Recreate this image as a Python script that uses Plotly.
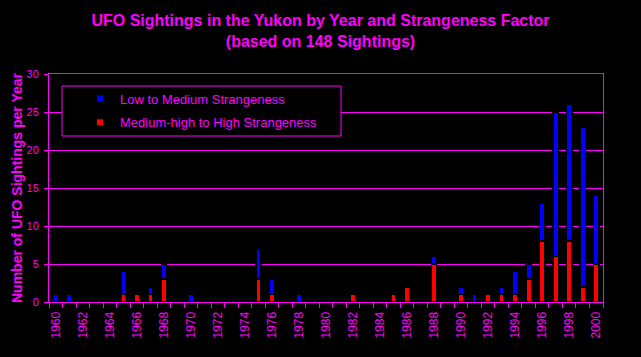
import plotly.graph_objects as go

years = list(range(1960, 2001))
# Medium-high to High Strangeness (red, bottom of stack)
high = {1965: 1, 1966: 1, 1967: 1, 1968: 3, 1975: 3, 1976: 1, 1982: 1, 1985: 1, 1986: 2,
        1988: 5, 1990: 1, 1992: 1, 1993: 1, 1994: 1, 1995: 3, 1996: 8, 1997: 6, 1998: 8,
        1999: 2, 2000: 5}
# Low to Medium Strangeness (blue, top of stack)
low = {1960: 1, 1961: 1, 1965: 3, 1967: 1, 1968: 2, 1970: 1, 1975: 4, 1976: 2, 1978: 1,
       1988: 1, 1990: 1, 1991: 1, 1993: 1, 1994: 3, 1995: 2, 1996: 5, 1997: 19, 1998: 18,
       1999: 21, 2000: 9}
high_vals = [high.get(y, 0) for y in years]
low_vals = [low.get(y, 0) for y in years]
tick_years = list(range(1960, 2001, 2))
tick_text = [str(y) for y in tick_years]

MAG = "#FF00FF"
BLUE = "#0000FF"
RED = "#FF0000"
FONT = "Liberation Sans, Arial, sans-serif"

fig = go.Figure()
fig.add_trace(go.Bar(x=years, y=high_vals, width=0.38, marker=dict(color=RED, line=dict(color="black", width=1.5)),
                     showlegend=False, legendgroup="high", name="Medium-high to High Strangeness"))
fig.add_trace(go.Bar(x=years, y=low_vals, width=0.38, marker=dict(color=BLUE, line=dict(color="black", width=1.5)),
                     showlegend=False, legendgroup="low", name="Low to Medium Strangeness"))
# legend entries
fig.add_trace(go.Scatter(x=[None], y=[None], mode="markers", name="Low to Medium Strangeness",
                         marker=dict(symbol="square", size=6, color=BLUE), legendgroup="low"))
fig.add_trace(go.Scatter(x=[None], y=[None], mode="markers", name="Medium-high to High Strangeness",
                         marker=dict(symbol="square", size=6, color=RED), legendgroup="high"))

W, H = 641, 357
L, R, T, B = 49, 38, 74, 55
pw, ph = W - L - R, H - T - B

def px(xp):
    return (xp - L) / pw

def py(yp):
    return (H - B - yp) / ph

fig.add_shape(type="rect", xref="paper", yref="paper", x0=px(62), x1=px(341), y0=py(136), y1=py(86),
              fillcolor="black", line=dict(color=MAG, width=1), layer="above")

fig.update_layout(
    width=W, height=H,
    margin=dict(l=L, r=R, t=T, b=B, pad=0),
    paper_bgcolor="black", plot_bgcolor="black",
    barmode="stack",
    font=dict(family=FONT, color=MAG),
    title=dict(text="<b>UFO Sightings in the Yukon by Year and Strangeness Factor<br>(based on 148 Sightings)</b>",
               x=0.5, xanchor="center", y=0.928, yanchor="top", yref="container",
               font=dict(family=FONT, size=16, color=MAG)),
    legend=dict(x=px(80), xanchor="left", y=py(83.5), yanchor="top", bgcolor="rgba(0,0,0,0)",
                borderwidth=0, traceorder="grouped", tracegroupgap=4,
                font=dict(family=FONT, size=13, color=MAG)),
    xaxis=dict(range=[1959.5, 2000.5], tickmode="array", tickvals=tick_years, ticktext=tick_text,
               tickangle=-90, ticks="", showgrid=False, zeroline=False,
               showline=True, linecolor=MAG, linewidth=1, mirror=True,
               tickfont=dict(family=FONT, size=12, color=MAG), ticklabelstandoff=4,
               minor=dict(tick0=1959.5, dtick=1, ticks="outside", ticklen=5, tickcolor=MAG, showgrid=False)),
    yaxis=dict(range=[0, 30], dtick=5, showgrid=True, gridcolor=MAG, gridwidth=1, zeroline=False,
               showline=True, linecolor=MAG, linewidth=1, mirror=True,
               ticks="outside", ticklen=4, tickcolor=MAG,
               tickfont=dict(family=FONT, size=11, color=MAG), ticklabelstandoff=3,
               title=dict(text="<b>Number of UFO Sightings per Year</b>", standoff=0,
                          font=dict(family=FONT, size=14, color=MAG))),
)

fig.write_html("out.html")
